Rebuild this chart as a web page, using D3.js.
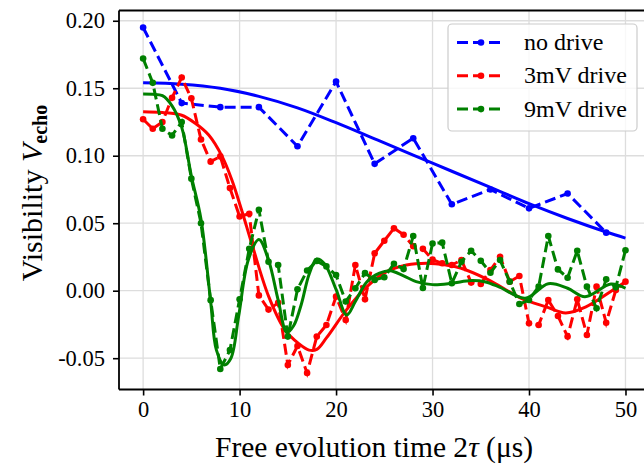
<!DOCTYPE html>
<html><head><meta charset="utf-8">
<script src="https://cdn.jsdelivr.net/npm/d3@7"></script>
<style>body{margin:0;background:#fff}svg{display:block}text{font-family:"Liberation Serif","DejaVu Serif",serif;fill:#000}</style>
</head><body><svg id="c" width="644" height="468"></svg>
<script>
// ---- data ----
const tBlue = [0,4,8,12,16,20,24,28,32,36,40,44,48];
const vBlue = [0.195,0.139,0.136,0.136,0.107,0.155,0.094,0.113,0.064,0.075,0.061,0.072,0.043];
const tDrive = [0,1,2,3,4,5,6,7,8,9,10,11,12,13,14,15,16,17,18,19,20,21,22,23,24,25,26,27,28,29,30,31,32,33,34,35,36,37,38,39,40,41,42,43,44,45,46,47,48,49,50];
const vRed = [0.127,0.120,0.125,0.143,0.158,0.1425,0.112,0.0956,0.0995,0.076,
  0.055,0.057,-0.0035,-0.014,-0.009,-0.055,-0.041,-0.061,-0.034,-0.0254,
  -0.0044,-0.0217,0.019,-0.0064,0.0277,0.037,0.0462,0.0415,0.033,0.031,
  0.023,0.0203,0.019,0.0227,0.006,0.005,0.0153,0.0252,0.0067,0.0109,
  -0.0242,-0.0254,-0.0069,-0.0187,-0.034,-0.0064,-0.0328,0.003,-0.0237,0.0005,0.0067];
const vGreen = [0.172,0.154,0.120,0.115,0.125,0.083,0.050,-0.007,-0.058,-0.044,
  -0.0064,0.031,0.060,0.0215,0.019,-0.034,0.001,0.015,0.022,0.018,
  0.0116,-0.008,0.0018,0.013,0.008,0.010,0.020,0.016,0.0405,0.002,
  0.035,0.0356,0.0055,0.0215,0.0296,0.0222,0.0133,0.0227,0.0067,-0.0099,
  -0.0069,0.003,0.0405,0.0158,0.0096,0.0296,0.003,-0.013,0.0084,0.0025,0.030];
// fitted curves
const fitBlueT = [0,4,8,12,16,20,24,28,32,36,40,44,48,50];
const fitBlueV = [0.154,0.153,0.150,0.144,0.1355,0.1245,0.1125,0.1005,0.0885,0.0765,0.0645,0.0535,0.0435,0.039];
const fitRedT = [0,2,4,5.4,6.8,8.2,9.2,10.2,11.3,13,14.7,16.1,17.2,18,19,21.1,23.2,25.2,27.3,29.4,31.4,32.9,35.8,39.2,41.8,43.8,45.9,48.7,50];
const fitRedV = [0.1326,0.132,0.130,0.124,0.1153,0.0993,0.082,0.060,0.034,-0.004,-0.029,-0.039,-0.044,-0.0435,-0.035,-0.014,0.003,0.014,0.019,0.0203,0.019,0.0168,0.008,-0.0056,-0.012,-0.0165,-0.012,0.0005,0.0067];
const fitGreenT = [0,1,2,3,4,5,6,7,7.6,8.4,9.1,9.9,10.9,12,13,14,14.9,15.6,16.4,17.2,18,18.8,20,21.1,22,23.2,24.5,25.6,27,28.3,30,32,34,35.5,37,39.6,42,44,45.8,48.5,50];
const fitGreenV = [0.1457,0.1455,0.1445,0.137,0.121,0.085,0.053,-0.008,-0.044,-0.055,-0.050,-0.019,0.0227,0.038,0.0227,-0.007,-0.031,-0.026,-0.010,0.012,0.0235,0.020,0.001,-0.018,-0.008,0.0067,0.013,0.0148,0.011,0.0067,0.0045,0.0055,0.0075,0.0065,0.0025,-0.0056,0.0052,0.0018,-0.0044,0.005,0.0018];
const xTicks = [0,10,20,30,40,50];
const yTicks = [-0.05,0.00,0.05,0.10,0.15,0.20];
const yTickLabels = ["-0.05","0.00","0.05","0.10","0.15","0.20"];
const seriesNames = ["no drive","3mV drive","9mV drive"];
const colors = ["#0000ff","#ff0000","#008000"];

// ---- layout ----
const svg = d3.select("#c");
const L = 119, R = 649.6, T = 10.5, B = 389.5;
const x = d3.scaleLinear().domain([-2.5,52.5]).range([L,R]);
const y = d3.scaleLinear().domain([-0.0732,0.2076]).range([B,T]);

// grid
const g = svg.append("g");
g.selectAll(".gx").data(xTicks).join("line")
  .attr("x1",d=>x(d)).attr("x2",d=>x(d)).attr("y1",T).attr("y2",B)
  .attr("stroke","#dddddd").attr("stroke-width",1.3);
g.selectAll(".gy").data(yTicks).join("line")
  .attr("x1",L).attr("x2",R).attr("y1",d=>y(d)).attr("y2",d=>y(d))
  .attr("stroke","#dddddd").attr("stroke-width",1.3);

// axes
const xAxis = d3.axisBottom(x).tickValues(xTicks).tickFormat(d3.format("d")).tickSize(6).tickPadding(6);
const yAxis = d3.axisLeft(y).tickValues(yTicks).tickFormat((d,i)=>yTickLabels[i]).tickSize(6).tickPadding(8);
const ax = svg.append("g").attr("transform",`translate(0,${B})`).call(xAxis);
const ay = svg.append("g").attr("transform",`translate(${L},0)`).call(yAxis);
[ax,ay].forEach(a=>{
  a.select(".domain").remove();
  a.selectAll(".tick line").attr("stroke","#000").attr("stroke-width",1.6);
  a.selectAll(".tick text").attr("font-size",22.5).attr("font-family","Liberation Serif").attr("fill","#000");
});

// spines
svg.append("line").attr("x1",L).attr("x2",L).attr("y1",T).attr("y2",B).attr("stroke","#000").attr("stroke-width",1.8);
svg.append("line").attr("x1",L).attr("x2",R).attr("y1",B).attr("y2",B).attr("stroke","#000").attr("stroke-width",1.8);
svg.append("line").attr("x1",L).attr("x2",R).attr("y1",T).attr("y2",T).attr("stroke","#000").attr("stroke-width",1.8);

const lineGen = d3.line().x(d=>x(d[0])).y(d=>y(d[1]));
const fitGen = d3.line().x(d=>x(d[0])).y(d=>y(d[1])).curve(d3.curveCatmullRom.alpha(0.5));

const data = [
  {t:tBlue, v:vBlue, ft:fitBlueT, fv:fitBlueV},
  {t:tDrive, v:vRed, ft:fitRedT, fv:fitRedV},
  {t:tDrive, v:vGreen, ft:fitGreenT, fv:fitGreenV}
];
data.forEach((s,i)=>{
  const pts = s.t.map((t,j)=>[t,s.v[j]]);
  svg.append("path").attr("d",lineGen(pts)).attr("fill","none")
    .attr("stroke",colors[i]).attr("stroke-width",3).attr("stroke-dasharray","11,5");
  svg.append("g").selectAll("circle").data(pts).join("circle")
    .attr("cx",d=>x(d[0])).attr("cy",d=>y(d[1])).attr("r",3.3).attr("fill",colors[i]);
  const fp = s.ft.map((t,j)=>[t,s.fv[j]]);
  svg.append("path").attr("d",fitGen(fp)).attr("fill","none")
    .attr("stroke",colors[i]).attr("stroke-width",3);
});

// legend
const lg = svg.append("g");
lg.append("rect").attr("x",448).attr("y",24).attr("width",189).attr("height",107)
  .attr("rx",4).attr("fill","#fff").attr("fill-opacity",0.8).attr("stroke","#cccccc").attr("stroke-width",1.2);
seriesNames.forEach((n,i)=>{
  const yy = 42.5 + i*33.3;
  lg.append("line").attr("x1",457).attr("x2",505).attr("y1",yy).attr("y2",yy)
    .attr("stroke",colors[i]).attr("stroke-width",3).attr("stroke-dasharray","11,5");
  lg.append("circle").attr("cx",481).attr("cy",yy).attr("r",3.3).attr("fill",colors[i]);
  lg.append("text").attr("x",524).attr("y",yy+7.5).attr("font-size",24).text(n);
});

// axis labels
const xl = svg.append("text").attr("x",374).attr("y",457).attr("text-anchor","middle").attr("font-size",29.5);
xl.append("tspan").text("Free evolution time 2");
xl.append("tspan").attr("font-style","italic").text("τ");
xl.append("tspan").text(" (μs)");

const yl = svg.append("text").attr("transform","translate(42,193) rotate(-90)").attr("text-anchor","middle").attr("font-size",30);
yl.append("tspan").text("Visibility ");
yl.append("tspan").attr("font-style","italic").text("V");
yl.append("tspan").attr("font-weight","bold").attr("font-size",20).attr("dy",5).text("echo");
</script></body></html>
